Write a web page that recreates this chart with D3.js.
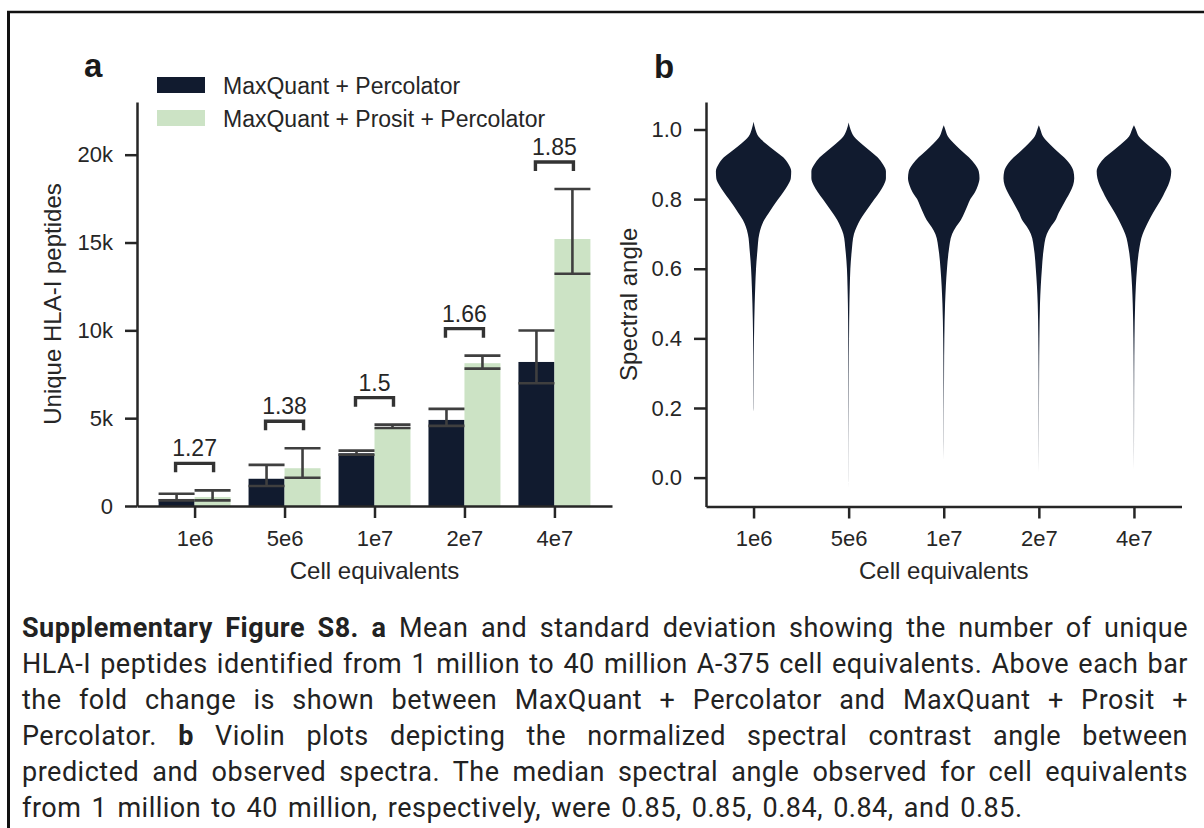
<!DOCTYPE html>
<html>
<head>
<meta charset="utf-8">
<script src="https://cdn.jsdelivr.net/npm/d3@7"></script>
<style>
  body { margin: 0; background: #fff; }
  #wrap { position: relative; width: 1204px; height: 828px; overflow: hidden; }
  #wrap svg { position: absolute; left: 0; top: 0; }
  #caption {
    position: absolute; left: 22px; top: 610px; width: 1166px;
    font-family: Roboto, sans-serif; font-size: 27px; letter-spacing: 0.5px;
    line-height: 36px; color: #222;
  }
  #caption div { text-align: justify; text-align-last: justify; white-space: nowrap; }
  #caption div:last-child { text-align-last: left; word-spacing: 3px; }
</style>
</head>
<body>
<div id="wrap">
  <svg width="1204" height="828"></svg>
  <div id="caption"></div>
</div>
<script>
// panel a: unique HLA-I peptides per cell equivalent
const categories = ["1e6", "5e6", "1e7", "2e7", "4e7"];
const seriesNames = ["MaxQuant + Percolator", "MaxQuant + Prosit + Percolator"];
const meanPerc = [400, 1550, 3000, 4900, 8200];
const lowPerc = [320, 1140, 2920, 4560, 6990];
const highPerc = [700, 2340, 3150, 5530, 9990];
const meanProsit = [510, 2150, 4470, 8130, 15200];
const lowProsit = [320, 1610, 4440, 7820, 13220];
const highProsit = [890, 3290, 4630, 8560, 18050];
const foldChange = ["1.27", "1.38", "1.5", "1.66", "1.85"];
const countTicks = [0, 5000, 10000, 15000, 20000];
const countTickLabels = ["0", "5k", "10k", "15k", "20k"];

// panel b: violin outlines (relative half width at each spectral angle)
const angleTicks = [0, 0.2, 0.4, 0.6, 0.8, 1.0];
const angleGrid = [1.0, 0.98, 0.96, 0.94, 0.92, 0.9, 0.88, 0.86, 0.84, 0.82, 0.8, 0.78, 0.76,
  0.74, 0.72, 0.7, 0.65, 0.6, 0.55, 0.5, 0.4, 0.3, 0.2, 0.1, 0.0];
const violinTop = [1.022, 1.02, 1.012, 1.012, 1.012];
const violinBottom = [0.19, -0.03, 0.05, 0.013, 0.022];
const widths1e6 = [0.05, 0.13, 0.32, 0.55, 0.78, 0.92, 0.99, 0.98, 0.9, 0.78, 0.65, 0.52, 0.4,
  0.28, 0.2, 0.15, 0.1, 0.065, 0.045, 0.03, 0.012, 0.006, 0.003, 0, 0];
const widths5e6 = [0.05, 0.14, 0.33, 0.55, 0.76, 0.9, 0.98, 0.98, 0.92, 0.81, 0.68, 0.55, 0.42,
  0.3, 0.21, 0.14, 0.08, 0.045, 0.03, 0.02, 0.01, 0.006, 0.004, 0.002, 0.001];
const widths1e7 = [0.04, 0.11, 0.27, 0.46, 0.66, 0.82, 0.92, 0.94, 0.9, 0.82, 0.7, 0.62, 0.54,
  0.45, 0.32, 0.22, 0.13, 0.085, 0.055, 0.035, 0.015, 0.008, 0.004, 0.002, 0];
const widths2e7 = [0.04, 0.11, 0.27, 0.46, 0.66, 0.82, 0.91, 0.93, 0.9, 0.82, 0.72, 0.62, 0.52,
  0.44, 0.31, 0.21, 0.12, 0.08, 0.05, 0.03, 0.014, 0.007, 0.004, 0.002, 0.001];
const widths4e7 = [0.05, 0.13, 0.32, 0.54, 0.76, 0.91, 0.98, 0.96, 0.9, 0.81, 0.72, 0.61, 0.5,
  0.4, 0.31, 0.23, 0.13, 0.08, 0.05, 0.032, 0.014, 0.007, 0.004, 0.002, 0.001];

const captionLines = [
  "<b>Supplementary Figure S8.</b> <b>a</b> Mean and standard deviation showing the number of unique",
  "HLA-I peptides identified from 1 million to 40 million A-375 cell equivalents. Above each bar",
  "the fold change is shown between MaxQuant + Percolator and MaxQuant + Prosit +",
  "Percolator. <b>b</b> Violin plots depicting the normalized spectral contrast angle between",
  "predicted and observed spectra. The median spectral angle observed for cell equivalents",
  "from 1 million to 40 million, respectively, were 0.85, 0.85, 0.84, 0.84, and 0.85.",
];

const dark = "#111b2f";
const green = "#cce3c5";
const ink = "#262626";
const errColor = "#3f3f3f";
const font = '"Liberation Sans", Arial, sans-serif';

const svg = d3.select("svg");

// frame of the figure
svg.append("line").attr("x1", 7).attr("x2", 1204).attr("y1", 12).attr("y2", 12)
  .attr("stroke", "#111").attr("stroke-width", 2.5);
svg.append("line").attr("x1", 8.5).attr("x2", 8.5).attr("y1", 11).attr("y2", 828)
  .attr("stroke", "#111").attr("stroke-width", 3);

const styleAxis = (g) => {
  g.attr("font-size", 22).attr("font-family", font).attr("color", ink);
  g.select(".domain").attr("stroke-width", 2.5);
  g.selectAll(".tick line").attr("stroke-width", 2.5);
};

const panelLabel = (x, y, t) =>
  svg.append("text").attr("x", x).attr("y", y).text(t)
    .attr("font-family", font).attr("font-weight", "bold").attr("font-size", 33).attr("fill", "#1a1a1a");

// ---------- panel a ----------
const xA = d3.scaleLinear().domain([-0.64, 4.64]).range([137, 612]);
const yA = d3.scaleLinear().domain([0, 23000]).range([506, 102]);
const barW = (xA(1) - xA(0)) * 0.4;

const series = [
  { name: seriesNames[0], color: dark, mean: meanPerc, low: lowPerc, high: highPerc },
  { name: seriesNames[1], color: green, mean: meanProsit, low: lowProsit, high: highProsit },
];

const gA = svg.append("g");
series.forEach((s, si) => {
  gA.append("g").selectAll("rect")
    .data(categories)
    .enter()
    .append("rect")
    .attr("x", (d, i) => xA(i) - barW + si * barW)
    .attr("width", barW)
    .attr("y", (d, i) => yA(s.mean[i]))
    .attr("height", (d, i) => yA(0) - yA(s.mean[i]))
    .attr("fill", s.color);
});

series.forEach((s, si) => {
  const eg = gA.append("g").attr("stroke", errColor).attr("stroke-width", 2.6);
  categories.forEach((c, i) => {
    const cx = xA(i) - barW / 2 + si * barW;
    eg.append("line").attr("x1", cx).attr("x2", cx)
      .attr("y1", yA(s.low[i])).attr("y2", yA(s.high[i]));
    [s.low[i], s.high[i]].forEach((v) => {
      eg.append("line").attr("x1", cx - barW / 2).attr("x2", cx + barW / 2)
        .attr("y1", yA(v)).attr("y2", yA(v));
    });
  });
});

// fold change brackets
categories.forEach((c, i) => {
  const cx = xA(i);
  const top = yA(Math.max(highPerc[i], highProsit[i])) - 27;
  gA.append("path")
    .attr("d", `M${cx - 19},${top + 9}V${top}H${cx + 19}V${top + 9}`)
    .attr("fill", "none").attr("stroke", "#333").attr("stroke-width", 3.4);
  gA.append("text").attr("x", cx).attr("y", top - 7).text(foldChange[i])
    .attr("text-anchor", "middle").attr("font-family", font).attr("font-size", 23).attr("fill", ink);
});

gA.append("g").attr("transform", `translate(0,${yA(0)})`)
  .call(d3.axisBottom(xA).tickValues(d3.range(categories.length))
    .tickFormat((d) => categories[d]).tickSize(12).tickPadding(12).tickSizeOuter(0))
  .call(styleAxis);
gA.append("g").attr("transform", `translate(${xA.range()[0]},0)`)
  .call(d3.axisLeft(yA).tickValues(countTicks)
    .tickFormat((d, i) => countTickLabels[i]).tickSize(12).tickPadding(12).tickSizeOuter(0))
  .call(styleAxis);

gA.append("text").text("Cell equivalents")
  .attr("x", (xA.range()[0] + xA.range()[1]) / 2).attr("y", 578.5)
  .attr("text-anchor", "middle").attr("font-family", font).attr("font-size", 24).attr("fill", ink);
gA.append("text").text("Unique HLA-I peptides")
  .attr("transform", `translate(61,${(yA.range()[0] + yA.range()[1]) / 2}) rotate(-90)`)
  .attr("text-anchor", "middle").attr("font-family", font).attr("font-size", 24).attr("fill", ink);

// legend
const legend = gA.append("g");
series.forEach((s, si) => {
  legend.append("rect").attr("x", 157).attr("y", 77 + si * 33)
    .attr("width", 48).attr("height", 16).attr("fill", s.color);
  legend.append("text").attr("x", 223).attr("y", 94 + si * 32.5).text(s.name)
    .attr("font-family", font).attr("font-size", 23).attr("fill", ink);
});

panelLabel(84, 77, "a");

// ---------- panel b ----------
const xB = d3.scaleLinear().domain([-0.5, 4.5]).range([706, 1181.5]);
const yB = d3.scaleLinear().domain([-0.083, 1.079]).range([506.5, 102]);
const halfMax = (xB(1) - xB(0)) * 0.4;
const violinWidths = [widths1e6, widths5e6, widths1e7, widths2e7, widths4e7];

const gB = svg.append("g");
violinWidths.forEach((w, i) => {
  const cx = xB(i);
  const prof = [{ a: violinTop[i], w: 0 }]
    .concat(angleGrid.map((a, k) => ({ a, w: w[k] }))
      .filter((p) => p.a < violinTop[i] && p.a > violinBottom[i]))
    .concat([{ a: violinBottom[i], w: 0 }]);
  const area = d3.area()
    .y((d) => yB(d.a))
    .x0((d) => cx - d.w * halfMax)
    .x1((d) => cx + d.w * halfMax)
    .curve(d3.curveMonotoneY);
  gB.append("path").attr("d", area(prof)).attr("fill", dark);
});

gB.append("g").attr("transform", `translate(0,${yB.range()[0]})`)
  .call(d3.axisBottom(xB).tickValues(d3.range(categories.length))
    .tickFormat((d) => categories[d]).tickSize(12).tickPadding(12).tickSizeOuter(0))
  .call(styleAxis);
gB.append("g").attr("transform", `translate(${xB.range()[0]},0)`)
  .call(d3.axisLeft(yB).tickValues(angleTicks)
    .tickFormat(d3.format(".1f")).tickSize(12).tickPadding(12).tickSizeOuter(0))
  .call(styleAxis);

gB.append("text").text("Cell equivalents")
  .attr("x", (xB.range()[0] + xB.range()[1]) / 2).attr("y", 578.5)
  .attr("text-anchor", "middle").attr("font-family", font).attr("font-size", 24).attr("fill", ink);
gB.append("text").text("Spectral angle")
  .attr("transform", `translate(637,${(yB.range()[0] + yB.range()[1]) / 2}) rotate(-90)`)
  .attr("text-anchor", "middle").attr("font-family", font).attr("font-size", 24).attr("fill", ink);

panelLabel(654, 78, "b");

// caption
d3.select("#caption").selectAll("div")
  .data(captionLines)
  .enter()
  .append("div")
  .html((d) => d);
</script>
</body>
</html>
